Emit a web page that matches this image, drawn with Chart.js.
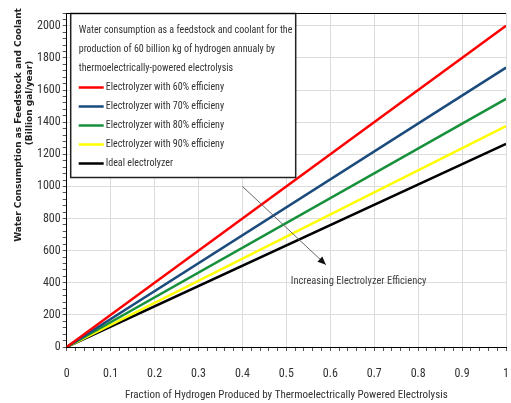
<!DOCTYPE html>
<html>
<head>
<meta charset="utf-8">
<script src="https://cdn.jsdelivr.net/npm/chart.js@4"></script>
<style>
  html, body { margin: 0; padding: 0; background: #fff; overflow: hidden; }
  #wrap { width: 525px; height: 403px; }
</style>
</head>
<body>
<div id="wrap"><canvas id="chart" width="525" height="403"></canvas></div>
<script>
// fraction of hydrogen from thermoelectric electrolysis (x)
const fractions = [0, 1];

const seriesLabels = [
    'Electrolyzer with 60% efficieny',
    'Electrolyzer with 70% efficieny',
    'Electrolyzer with 80% efficieny',
    'Electrolyzer with 90% efficieny',
    'Ideal electrolyzer'
];
const eff60 = [0, 2000];
const eff70 = [0, 1740];
const eff80 = [0, 1545];
const eff90 = [0, 1375];
const ideal = [0, 1265];
const seriesColors = ['#ff0000', '#1b4b7d', '#17903c', '#ffff00', '#000000'];

const legendTitle = [
    'Water consumption as a feedstock and coolant for the',
    'production of 60 billion kg of hydrogen annualy by',
    'thermoelectrically-powered electrolysis'
];
const yTitle = ['Water Consumption as Feedstock and Coolant', '(Billion gal/year)'];
const xTitle = 'Fraction of Hydrogen Produced by Thermoelectrically Powered Electrolysis';
const noteText = 'Increasing Electrolyzer Efficiency';

const narrow = '"Roboto Condensed", "Liberation Sans", sans-serif';

const allSeries = [eff60, eff70, eff80, eff90, ideal];
const datasets = allSeries.map((vals, i) => ({
    label: seriesLabels[i],
    data: fractions.map((f, j) => ({ x: f, y: vals[j] })),
    borderColor: seriesColors[i],
    backgroundColor: seriesColors[i],
    borderWidth: 2.5,
    pointRadius: 0,
    tension: 0,
    fill: false
}));

// box legend drawn inside plot, top-left
const boxLegend = {
    id: 'boxLegend',
    afterDraw(chart) {
        const ctx = chart.ctx;
        const a = chart.chartArea;
        const x0 = a.left + 4, y0 = a.top + 0.5, w = 225, h = 164;
        ctx.save();
        ctx.fillStyle = '#fff';
        ctx.fillRect(x0, y0, w, h);
        ctx.strokeStyle = '#222';
        ctx.lineWidth = 1.5;
        ctx.strokeRect(x0, y0, w, h);
        ctx.fillStyle = '#333';
        ctx.font = '10px ' + narrow;
        ctx.textBaseline = 'middle';
        legendTitle.forEach((t, i) => ctx.fillText(t, x0 + 8, y0 + 17 + i * 19));
        chart.data.datasets.forEach((ds, i) => {
            const yy = y0 + 74 + i * 19;
            ctx.strokeStyle = ds.borderColor;
            ctx.lineWidth = 2.5;
            ctx.beginPath();
            ctx.moveTo(x0 + 8, yy);
            ctx.lineTo(x0 + 33, yy);
            ctx.stroke();
            ctx.fillStyle = '#333';
            ctx.fillText(ds.label, x0 + 35, yy);
        });
        ctx.restore();
    }
};

// top frame line, y axis title and arrow note
const extras = {
    id: 'extras',
    afterDraw(chart) {
        const ctx = chart.ctx;
        const a = chart.chartArea;
        const xs = chart.scales.x, ys = chart.scales.y;
        ctx.save();
        ctx.strokeStyle = '#000';
        ctx.lineWidth = 1;
        ctx.beginPath();
        ctx.moveTo(a.left, a.top + 0.5);
        ctx.lineTo(a.right, a.top + 0.5);
        ctx.stroke();
        ctx.restore();

        // rotated y title, two lines
        [[19, 125], [30, 103]].forEach((p, i) => {
            ctx.save();
            ctx.fillStyle = '#222';
            ctx.textAlign = 'center';
            ctx.textBaseline = 'middle';
            ctx.font = 'bold 9px "DejaVu Sans", sans-serif';
            ctx.translate(p[0], p[1]);
            ctx.rotate(-Math.PI / 2);
            ctx.fillText(yTitle[i], 0, 0);
            ctx.restore();
        });

        // arrow
        const x1 = xs.getPixelForValue(0.4), y1 = ys.getPixelForValue(1000);
        const x2 = xs.getPixelForValue(0.59), y2 = ys.getPixelForValue(512);
        ctx.save();
        ctx.strokeStyle = '#666';
        ctx.lineWidth = 1;
        ctx.beginPath();
        ctx.moveTo(x1, y1);
        ctx.lineTo(x2, y2);
        ctx.stroke();
        const ang = Math.atan2(y2 - y1, x2 - x1);
        ctx.fillStyle = '#111';
        ctx.beginPath();
        ctx.moveTo(x2, y2);
        ctx.lineTo(x2 - 9 * Math.cos(ang - 0.4), y2 - 9 * Math.sin(ang - 0.4));
        ctx.lineTo(x2 - 9 * Math.cos(ang + 0.4), y2 - 9 * Math.sin(ang + 0.4));
        ctx.closePath();
        ctx.fill();
        ctx.fillStyle = '#444';
        ctx.font = '10.5px ' + narrow;
        ctx.textBaseline = 'middle';
        ctx.fillText(noteText, xs.getPixelForValue(0.51), ys.getPixelForValue(406));
        ctx.restore();
    }
};

new Chart(document.getElementById('chart'), {
    type: 'line',
    data: { datasets: datasets },
    options: {
        responsive: false,
        animation: false,
        layout: { padding: { left: 35, top: 13, right: 0, bottom: 0 } },
        plugins: {
            legend: { display: false },
            tooltip: { enabled: false }
        },
        scales: {
            x: {
                type: 'linear',
                min: 0,
                max: 1,
                afterFit: scale => { scale.height = 56; },
                ticks: {
                    stepSize: 0.02,
                    autoSkip: false,
                    maxRotation: 0,
                    color: '#333',
                    font: { family: narrow, size: 12 },
                    padding: 16,
                    callback: v => (Math.round(v * 50) % 5 === 0 ? String(Math.round(v * 10) / 10) : '')
                },
                grid: {
                    color: c => (Math.round(c.tick.value * 50) % 5 === 0 ? '#dcdcdc' : 'rgba(0,0,0,0)'),
                    tickColor: '#555',
                    tickLength: 4,
                    drawTicks: true
                },
                border: { color: '#000', width: 1 },
                title: {
                    display: true,
                    text: xTitle,
                    color: '#333',
                    font: { family: narrow, size: 11, lineHeight: 1.45 },
                    padding: { top: 0, bottom: 0 }
                }
            },
            y: {
                min: 0,
                max: 2080,
                ticks: {
                    stepSize: 40,
                    autoSkip: false,
                    color: '#333',
                    font: { family: narrow, size: 12 },
                    padding: 2,
                    callback: v => (v % 200 === 0 ? String(v) : '')
                },
                grid: {
                    color: c => (c.tick.value % 200 === 0 ? '#dcdcdc' : 'rgba(0,0,0,0)'),
                    tickColor: '#555',
                    tickLength: 4
                },
                border: { color: '#000', width: 1 }
            }
        }
    },
    plugins: [boxLegend, extras]
});
</script>
</body>
</html>
